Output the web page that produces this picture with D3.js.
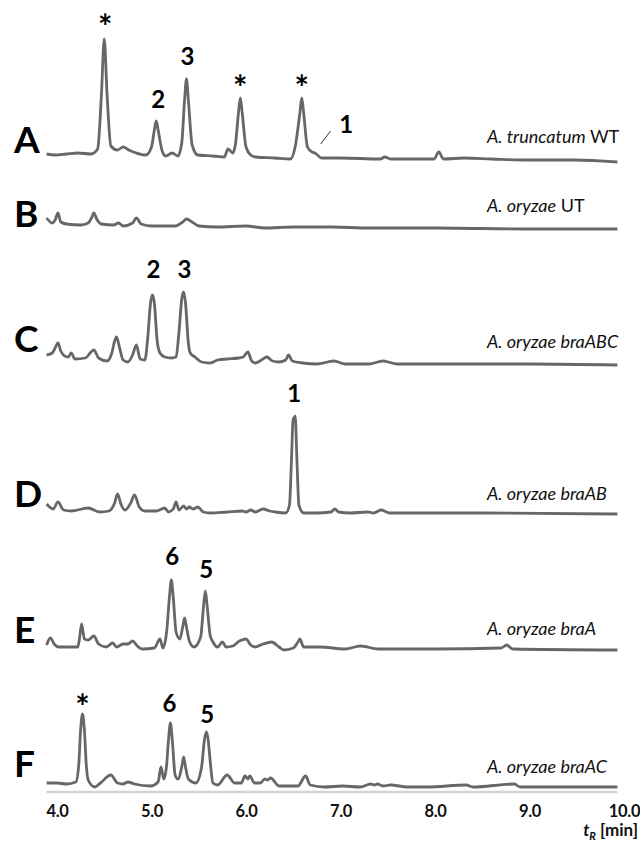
<!DOCTYPE html>
<html><head><meta charset="utf-8">
<script src="https://cdn.jsdelivr.net/npm/d3@7"></script>
<style>body{margin:0;background:#fff} svg{display:block}</style>
</head><body>
<svg id="chart" width="640" height="851"></svg>
<script>
// ---- data ----
const tickValues = [4, 5, 6, 7, 8, 9, 10];
const traceIds = ["A", "B", "C", "D", "E", "F"];
const sampleNames = [
  ["A. truncatum", " WT"],
  ["A. oryzae", " UT"],
  ["A. oryzae braABC", ""],
  ["A. oryzae braAB", ""],
  ["A. oryzae braA", ""],
  ["A. oryzae braAC", ""]
];
// [retention time (min), intensity]
const traceA = [[3.89,1],[3.98,0],[4.10,1],[4.22,2],[4.36,1],[4.43,6],[4.47,60],[4.50,116],[4.53,60],[4.57,9],[4.64,5],[4.70,8],[4.76,5],[4.84,2],[4.94,0],[5.00,8],[5.03,25],[5.05,34],[5.07,25],[5.11,5],[5.15,-1],[5.22,2],[5.28,-1],[5.32,12],[5.35,55],[5.37,76],[5.39,55],[5.43,10],[5.49,0],[5.65,-1],[5.77,-2],[5.81,6],[5.86,2],[5.89,12],[5.92,42],[5.94,57],[5.96,42],[6.00,8],[6.05,0],[6.10,-2],[6.30,-3],[6.47,-4],[6.52,8],[6.57,42],[6.59,57],[6.61,42],[6.65,8],[6.70,3],[6.73,2],[6.80,-3],[7.00,-3],[7.42,-4],[7.47,-2],[7.53,-4],[7.99,-4],[8.04,3],[8.09,-4],[8.31,-3],[8.60,-4],[8.97,-5],[9.47,-5],[9.93,-7]];
const traceB = [[3.89,10],[3.95,5],[3.98,8],[4.01,15],[4.04,6],[4.10,4],[4.25,3],[4.33,5],[4.37,11],[4.39,15],[4.42,9],[4.47,4],[4.60,3],[4.65,5],[4.70,2],[4.80,5],[4.84,10],[4.89,4],[5.00,2],[5.25,2],[5.33,6],[5.37,9],[5.43,6],[5.50,2],[5.70,1],[6.00,2],[6.20,0],[6.50,1],[6.91,1],[7.30,0],[8.00,0],[9.00,-1],[9.93,-1]];
const traceC = [[3.89,8],[3.95,10],[3.98,15],[4.01,20],[4.04,12],[4.08,7],[4.12,6],[4.15,10],[4.19,4],[4.30,5],[4.36,11],[4.39,13],[4.44,5],[4.53,2],[4.58,10],[4.61,22],[4.63,26],[4.66,16],[4.70,3],[4.75,1],[4.80,8],[4.84,18],[4.88,4],[4.93,3],[4.96,25],[4.99,60],[5.01,68],[5.03,60],[5.06,22],[5.09,10],[5.14,6],[5.21,5],[5.26,6],[5.29,30],[5.32,64],[5.34,71],[5.36,60],[5.39,20],[5.41,10],[5.46,6],[5.53,1],[5.62,0],[5.70,3],[5.80,4],[5.92,5],[5.97,6],[6.02,11],[6.06,2],[6.10,0],[6.18,4],[6.22,6],[6.28,2],[6.35,1],[6.42,3],[6.45,8],[6.49,2],[6.60,0],[6.75,-1],[6.93,2],[7.05,-1],[7.30,-1],[7.45,2],[7.60,-1],[8.00,-1],[9.00,-1],[9.93,-2]];
const traceD = [[3.89,9],[3.96,4],[4.01,11],[4.07,3],[4.15,2],[4.33,5],[4.45,1],[4.55,2],[4.61,10],[4.64,19],[4.68,8],[4.72,3],[4.78,10],[4.82,18],[4.87,6],[4.93,2],[5.05,2],[5.14,5],[5.18,1],[5.23,4],[5.26,11],[5.29,3],[5.34,7],[5.37,4],[5.40,6],[5.44,4],[5.49,6],[5.55,1],[5.62,0],[5.80,1],[5.96,2],[6.00,1],[6.05,3],[6.10,1],[6.18,4],[6.25,2],[6.31,1],[6.42,0],[6.46,8],[6.48,50],[6.50,95],[6.51,93],[6.52,97],[6.54,50],[6.56,8],[6.61,0],[6.74,0],[6.90,1],[6.94,4],[6.98,1],[7.10,0],[7.29,1],[7.35,0],[7.43,3],[7.52,0],[8.00,0],[8.51,0],[9.93,-1]];
const traceE = [[3.89,2],[3.93,9],[3.97,3],[4.02,0],[4.22,0],[4.24,10],[4.26,23],[4.29,8],[4.33,7],[4.39,11],[4.44,3],[4.52,0],[4.59,4],[4.63,0],[4.70,3],[4.75,3],[4.80,6],[4.85,1],[4.90,-2],[5.03,-1],[5.09,8],[5.12,-1],[5.16,15],[5.19,50],[5.21,67],[5.23,50],[5.26,15],[5.30,8],[5.33,20],[5.35,29],[5.37,20],[5.40,6],[5.45,0],[5.52,10],[5.55,40],[5.57,56],[5.59,40],[5.62,12],[5.65,5],[5.70,0],[5.75,5],[5.79,0],[5.86,1],[5.93,6],[5.96,7],[6.00,8],[6.05,2],[6.10,0],[6.18,3],[6.27,5],[6.35,0],[6.40,-3],[6.50,-1],[6.55,5],[6.57,8],[6.61,0],[6.78,0],[7.05,-2],[7.21,1],[7.40,-2],[8.00,-2],[8.70,-1],[8.76,2],[8.82,-2],[9.93,-3]];
const traceF = [[3.89,2],[4.00,2],[4.10,1],[4.20,3],[4.23,20],[4.25,55],[4.27,71],[4.29,55],[4.31,20],[4.33,5],[4.40,-2],[4.46,2],[4.57,10],[4.64,2],[4.70,1],[4.75,3],[4.82,1],[4.99,-1],[5.07,3],[5.10,18],[5.13,6],[5.16,20],[5.18,45],[5.20,62],[5.22,45],[5.25,10],[5.28,6],[5.32,18],[5.34,28],[5.36,18],[5.39,6],[5.47,2],[5.53,18],[5.56,45],[5.58,53],[5.60,45],[5.62,25],[5.65,2],[5.70,0],[5.80,10],[5.88,2],[5.95,2],[5.99,9],[6.02,6],[6.04,9],[6.09,2],[6.15,2],[6.20,6],[6.23,5],[6.26,7],[6.35,-1],[6.55,-1],[6.63,9],[6.68,0],[6.83,-2],[7.02,-1],[7.21,-2],[7.32,1],[7.36,0],[7.39,1],[7.45,-1],[7.53,0],[7.71,-2],[7.92,-2],[8.33,0],[8.40,-2],[8.84,1],[8.90,-2],[9.93,-2]];
const traces = [traceA, traceB, traceC, traceD, traceE, traceF];
// peak annotations: trace, retention time, label level (intensity units), text
const peakLabels = [
  ["A", 4.51, 116, "*"], ["A", 5.07, 47, "2"], ["A", 5.38, 90, "3"],
  ["A", 5.94, 55, "*"], ["A", 6.59, 55, "*"], ["A", 7.06, 22, "1"],
  ["C", 5.02, 85, "2"], ["C", 5.35, 85, "3"],
  ["D", 6.51, 111, "1"],
  ["E", 5.22, 82, "6"], ["E", 5.58, 69, "5"],
  ["F", 4.27, 66, "*"], ["F", 5.19, 73, "6"], ["F", 5.59, 62, "5"]
];
const leaderA = [[6.79, 11], [6.895, 24]];

// ---- layout ----
const baseY   = [155, 228, 363, 513, 647, 785];
const letterY = [153, 227, 352, 507, 643, 777];
const nameY   = [143, 212, 348, 500, 635, 773];
const font = "Lato, 'Open Sans', sans-serif";
const traceColor = "#676767";

const svg = d3.select("#chart");
const x = d3.scaleLinear().domain([4, 10]).range([57, 624]);
const yFor = i => d3.scaleLinear().domain([0, 100]).range([baseY[i], baseY[i] - 100]);

// axis line
svg.append("line")
  .attr("x1", x(3.89)).attr("x2", x(9.93))
  .attr("y1", 792).attr("y2", 792)
  .attr("stroke", "#d4d4d4").attr("stroke-width", 2.5);

const axis = svg.append("g").attr("transform", "translate(0,792)")
  .call(d3.axisBottom(x).tickValues(tickValues).tickFormat(d3.format(".1f")).tickSize(0));
axis.select(".domain").remove();
axis.selectAll("text")
  .attr("y", 25).attr("dy", 0)
  .attr("fill", "#111")
  .style("letter-spacing", "-0.3px")
  .style("font-family", font).style("font-weight", "bold").style("font-size", "16.5px");

// axis title
const tt = svg.append("text").attr("x", 638).attr("y", 836).attr("text-anchor", "end")
  .style("font-family", font).style("font-weight", "bold").style("font-size", "17px").attr("fill", "#111");
tt.append("tspan").style("font-style", "italic").text("t");
tt.append("tspan").style("font-style", "italic").style("font-size", "11px").attr("dy", 4).text("R");
tt.append("tspan").attr("dy", -4).text(" [min]");

// traces
traces.forEach((data, i) => {
  const y = yFor(i);
  const line = d3.line().x(d => x(d[0])).y(d => y(d[1])).curve(d3.curveMonotoneX);
  svg.append("path").datum(data)
    .attr("d", line)
    .attr("fill", "none")
    .attr("stroke", traceColor)
    .attr("stroke-width", 2.8)
    .attr("stroke-linejoin", "round");

  svg.append("text").attr("x", 14).attr("y", letterY[i])
    .style("font-family", font).style("font-weight", "bold").style("font-size", "37px")
    .attr("fill", "#000").text(traceIds[i]);

  const nm = svg.append("text").attr("x", 487).attr("y", nameY[i])
    .style("font-family", font).style("font-size", "18px").attr("fill", "#111");
  nm.append("tspan").style("font-style", "italic").text(sampleNames[i][0]);
  if (sampleNames[i][1]) nm.append("tspan").text(sampleNames[i][1]);
});

// peak labels
peakLabels.forEach(([id, t, v, txt]) => {
  const i = traceIds.indexOf(id);
  const y = yFor(i);
  svg.append("text").attr("x", x(t)).attr("y", y(v)).attr("text-anchor", "middle")
    .style("font-family", font).style("font-weight", "bold")
    .style("font-size", txt === "*" ? "34px" : "24px")
    .attr("fill", "#000").text(txt);
});

// leader line for peak 1 in trace A
const yA = yFor(0);
svg.append("line")
  .attr("x1", x(leaderA[0][0])).attr("y1", yA(leaderA[0][1]))
  .attr("x2", x(leaderA[1][0])).attr("y2", yA(leaderA[1][1]))
  .attr("stroke", "#333").attr("stroke-width", 1);
</script>
</body></html>
